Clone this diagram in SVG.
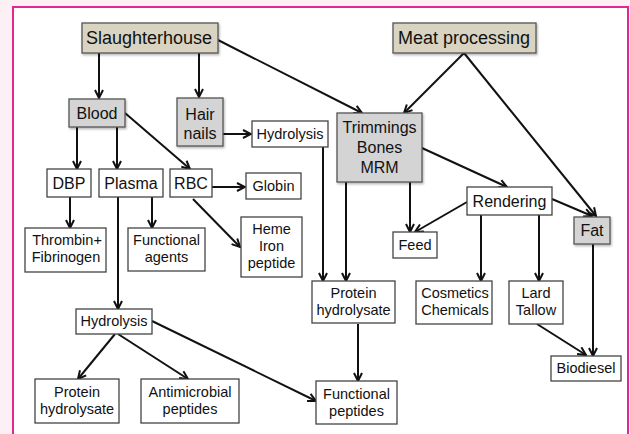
<svg xmlns="http://www.w3.org/2000/svg" width="630" height="434" viewBox="0 0 630 434">
<defs>
<style>
.bx{fill:#fff;stroke:#444;stroke-width:1.3}
.gr{fill:#d4d4d4;stroke:#555;stroke-width:1.3;filter:url(#sh)}
.bg{fill:#d8d4c1;stroke:#555;stroke-width:1.3;filter:url(#sh)}
text{font-family:"Liberation Sans",Arial,Helvetica,sans-serif;fill:#111;text-anchor:middle}
.t18{font-size:18px}
.t16{font-size:16px}
.t14{font-size:14.5px}
.e{stroke:#111;stroke-width:2;fill:none;marker-end:url(#ah)}
</style>
<filter id="sh" x="-20%" y="-20%" width="150%" height="150%">
<feDropShadow dx="1" dy="1.5" stdDeviation="1" flood-color="#000" flood-opacity="0.3"/>
</filter>
<marker id="ah" viewBox="0 0 10 10" refX="9" refY="5" markerWidth="10" markerHeight="10" markerUnits="userSpaceOnUse" orient="auto">
<path d="M1,1 L9,5 L1,9" fill="none" stroke="#111" stroke-width="2"/>
</marker>
</defs>
<rect x="0" y="0" width="630" height="434" fill="#fdf0f5"/>
<rect x="13" y="7" width="615" height="440" fill="#fff" stroke="#e0288f" stroke-width="2"/>

<g id="connectors">
<line class="e" x1="99" y1="53" x2="99" y2="98"/>
<line class="e" x1="199" y1="53" x2="199" y2="97"/>
<line class="e" x1="218" y1="40" x2="362" y2="113"/>
<line class="e" x1="464" y1="53" x2="404" y2="113"/>
<line class="e" x1="464" y1="53" x2="596" y2="216"/>
<line class="e" x1="77" y1="127" x2="77" y2="169"/>
<line class="e" x1="117" y1="127" x2="117" y2="169"/>
<line class="e" x1="125" y1="113" x2="190" y2="169"/>
<line class="e" x1="223" y1="134" x2="251" y2="134"/>
<line class="e" x1="323" y1="147" x2="323" y2="281"/>
<line class="e" x1="346" y1="182" x2="346" y2="281"/>
<line class="e" x1="410" y1="182" x2="410" y2="232"/>
<line class="e" x1="422" y1="148" x2="507" y2="187"/>
<line class="e" x1="467" y1="202" x2="415" y2="232"/>
<line class="e" x1="552" y1="199" x2="592" y2="216"/>
<line class="e" x1="481" y1="215" x2="481" y2="281"/>
<line class="e" x1="539" y1="215" x2="539" y2="281"/>
<line class="e" x1="593" y1="244" x2="593" y2="356"/>
<line class="e" x1="537" y1="324" x2="586" y2="355"/>
<line class="e" x1="358" y1="324" x2="358" y2="381"/>
<line class="e" x1="212" y1="187" x2="245" y2="187"/>
<line class="e" x1="193" y1="199" x2="240" y2="247"/>
<line class="e" x1="70" y1="197" x2="70" y2="228"/>
<line class="e" x1="152" y1="197" x2="152" y2="228"/>
<line class="e" x1="118" y1="197" x2="118" y2="309"/>
<line class="e" x1="115" y1="334" x2="78" y2="379"/>
<line class="e" x1="118" y1="334" x2="188" y2="379"/>
<line class="e" x1="152" y1="321" x2="316" y2="401"/>
</g>

<g id="slaughterhouse"><rect class="bg" x="82" y="23" width="136" height="30"/><text class="t18" x="149" y="44">Slaughterhouse</text></g>
<g id="meat-processing"><rect class="bg" x="393" y="23" width="143" height="30"/><text class="t18" x="464" y="44">Meat processing</text></g>
<g id="blood"><rect class="gr" x="69" y="99" width="56" height="28"/><text class="t16" x="97" y="119">Blood</text></g>
<g id="hair-nails"><rect class="gr" x="177" y="98" width="46" height="48"/><text class="t16" x="200" y="120">Hair</text><text class="t16" x="200" y="139">nails</text></g>
<g id="hydrolysis-top"><rect class="bx" x="252" y="121" width="76" height="26"/><text class="t14" x="290" y="139">Hydrolysis</text></g>
<g id="trimmings"><rect class="gr" x="337" y="113" width="85" height="69"/><text class="t16" x="379.5" y="133">Trimmings</text><text class="t16" x="379.5" y="153">Bones</text><text class="t16" x="379.5" y="173">MRM</text></g>
<g id="dbp"><rect class="bx" x="47" y="169" width="44" height="28"/><text class="t16" x="69" y="189">DBP</text></g>
<g id="plasma"><rect class="bx" x="99" y="169" width="64" height="28"/><text class="t16" x="131" y="189">Plasma</text></g>
<g id="rbc"><rect class="bx" x="170" y="169" width="42" height="28"/><text class="t16" x="191" y="189">RBC</text></g>
<g id="globin"><rect class="bx" x="246" y="173" width="55" height="26"/><text class="t14" x="273.5" y="191">Globin</text></g>
<g id="heme"><rect class="bx" x="241" y="217" width="61" height="60"/><text class="t14" x="271.5" y="234">Heme</text><text class="t14" x="271.5" y="251">Iron</text><text class="t14" x="271.5" y="268">peptide</text></g>
<g id="thrombin"><rect class="bx" x="25" y="228" width="81" height="44"/><text class="t14" x="67" y="245">Thrombin+</text><text class="t14" x="66" y="262">Fibrinogen</text></g>
<g id="functional-agents"><rect class="bx" x="128" y="228" width="77" height="43"/><text class="t14" x="166.5" y="245">Functional</text><text class="t14" x="166.5" y="262">agents</text></g>
<g id="rendering"><rect class="bx" x="467" y="187" width="85" height="28"/><text class="t16" x="509.5" y="207">Rendering</text></g>
<g id="feed"><rect class="bx" x="393" y="232" width="44" height="26"/><text class="t14" x="415" y="250">Feed</text></g>
<g id="fat"><rect class="gr" x="574" y="217" width="36" height="27"/><text class="t16" x="592" y="236">Fat</text></g>
<g id="protein-hydrolysate-mid"><rect class="bx" x="312" y="281" width="83" height="42"/><text class="t14" x="353.5" y="298">Protein</text><text class="t14" x="353.5" y="315">hydrolysate</text></g>
<g id="cosmetics"><rect class="bx" x="416" y="281" width="76" height="43"/><text class="t14" x="455" y="298">Cosmetics</text><text class="t14" x="455" y="315">Chemicals</text></g>
<g id="lard"><rect class="bx" x="509" y="281" width="54" height="43"/><text class="t14" x="536" y="298">Lard</text><text class="t14" x="536" y="315">Tallow</text></g>
<g id="biodiesel"><rect class="bx" x="551" y="356" width="70" height="25"/><text class="t14" x="586" y="373">Biodiesel</text></g>
<g id="functional-peptides"><rect class="bx" x="316" y="381" width="81" height="43"/><text class="t14" x="356.5" y="399">Functional</text><text class="t14" x="356.5" y="416">peptides</text></g>
<g id="hydrolysis-bottom"><rect class="bx" x="76" y="309" width="76" height="25"/><text class="t14" x="114" y="326">Hydrolysis</text></g>
<g id="protein-hydrolysate-bottom"><rect class="bx" x="35" y="379" width="84" height="44"/><text class="t14" x="77" y="397">Protein</text><text class="t14" x="77" y="414">hydrolysate</text></g>
<g id="antimicrobial"><rect class="bx" x="141" y="379" width="98" height="44"/><text class="t14" x="190" y="397">Antimicrobial</text><text class="t14" x="190" y="414">peptides</text></g>
</svg>
